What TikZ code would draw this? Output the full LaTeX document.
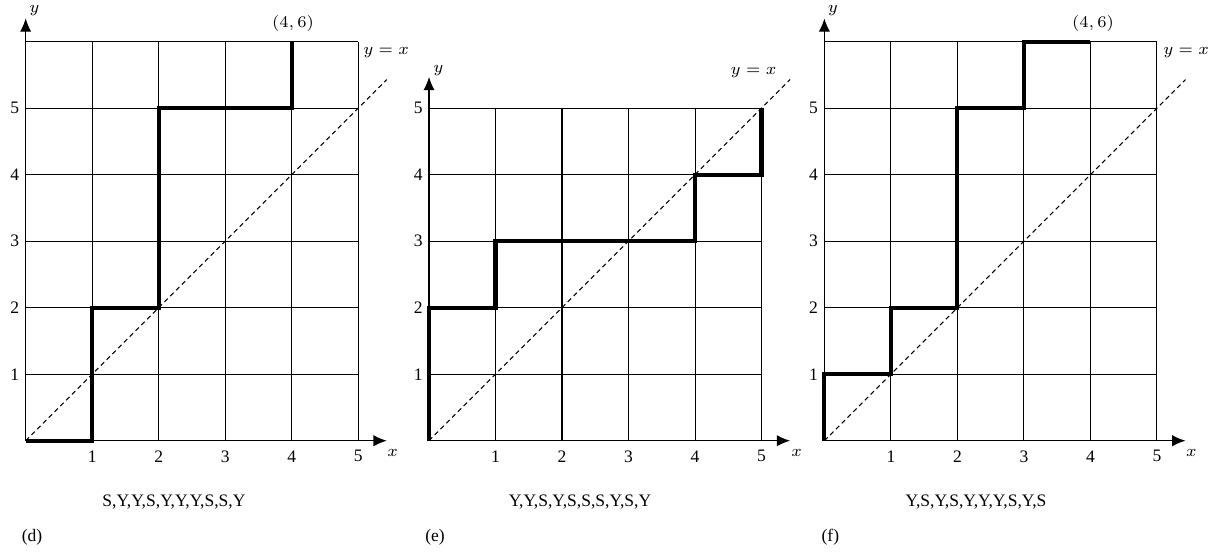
\documentclass[tikz,border=0pt]{standalone}
\usepackage{fontspec}
\setmainfont{Liberation Serif}
\usetikzlibrary{arrows.meta}
\tikzset{
  gridline/.style={line width=0.45pt},
  axisline/.style={line width=0.5pt,-{Latex[length=2mm,width=1.7mm]}},
  pathline/.style={line width=1.8pt,line join=miter},
  diag/.style={line width=0.45pt,dash pattern=on 2pt off 1.5pt},
  lbl/.style={inner sep=0pt},
  xtick/.style={inner sep=0pt,anchor=north},
  ytick/.style={inner sep=0pt,anchor=east}
}
\begin{document}
\begin{tikzpicture}[x=1cm,y=1cm,font=\fontsize{7.5}{9}\selectfont]
\useasboundingbox (-0.386,-1.689) rectangle (17.989,6.627);

% ---------- panel (d) ----------
\begin{scope}
  \draw[gridline] (0,0) grid (5,6);
  \coordinate (dO) at (0,0);
  \coordinate (dX) at (5.43,0);
  \coordinate (dY) at (0,6.35);
  \coordinate (dD) at (5.43,5.43);
  \draw[diag] (dO) -- (dD);
  \draw[pathline] (0,0) -- (1,0) -- (1,2) -- (2,2) -- (2,5) -- (4,5) -- (4,6);
  \draw[axisline] (dO) -- (dX);
  \draw[axisline] (dO) -- (dY);
  \foreach \i in {1,...,5} {
    \node[xtick] (dxt\i) at (\i,-0.14) {\i};
    \node[ytick] (dyt\i) at (-0.09,\i) {\i};
  }
  \node[lbl] (dxl) at (5.52,-0.18) {$x$};
  \node[lbl] (dyl) at (0.13,6.47) {$y$};
  \node[lbl] (dyx) at (5.42,5.84) {$y=x$};
  \node[lbl] (dpt) at (4.02,6.27) {$(4,6)$};
  \node[lbl] (dseq) at (2.23,-0.92) {S,Y,Y,S,Y,Y,Y,S,S,Y};
  \node[lbl] (dtag) at (0.095,-1.45) {(d)};
\end{scope}

% ---------- panel (e) ----------
\begin{scope}[xshift=6.065cm]
  \draw[gridline] (0,0) grid (5,5);
  \coordinate (eO) at (0,0);
  \coordinate (eX) at (5.43,0);
  \coordinate (eY) at (0,5.47);
  \coordinate (eD) at (5.43,5.43);
  \draw[diag] (eO) -- (eD);
  \draw[pathline] (0,0) -- (0,2) -- (1,2) -- (1,3) -- (4,3) -- (4,4) -- (5,4) -- (5,5);
  \draw[axisline] (eO) -- (eX);
  \draw[axisline] (eO) -- (eY);
  \foreach \i in {1,...,5} {
    \node[xtick] (ext\i) at (\i,-0.14) {\i};
    \node[ytick] (eyt\i) at (-0.09,\i) {\i};
  }
  \node[lbl] (exl) at (5.53,-0.18) {$x$};
  \node[lbl] (eyl) at (0.14,5.57) {$y$};
  \node[lbl] (eyx) at (4.88,5.54) {$y=x$};
  \node[lbl] (eseq) at (2.27,-0.92) {Y,Y,S,Y,S,S,S,Y,S,Y};
  \node[lbl] (etag) at (0.09,-1.45) {(e)};
\end{scope}

% ---------- panel (f) ----------
\begin{scope}[xshift=12.01cm]
  \draw[gridline] (0,0) grid (5,6);
  \coordinate (fO) at (0,0);
  \coordinate (fX) at (5.43,0);
  \coordinate (fY) at (0,6.35);
  \coordinate (fD) at (5.43,5.43);
  \draw[diag] (fO) -- (fD);
  \draw[pathline] (0,0) -- (0,1) -- (1,1) -- (1,2) -- (2,2) -- (2,5) -- (3,5) -- (3,6) -- (4,6);
  \draw[axisline] (fO) -- (fX);
  \draw[axisline] (fO) -- (fY);
  \foreach \i in {1,...,5} {
    \node[xtick] (fxt\i) at (\i,-0.14) {\i};
    \node[ytick] (fyt\i) at (-0.09,\i) {\i};
  }
  \node[lbl] (fxl) at (5.52,-0.18) {$x$};
  \node[lbl] (fyl) at (0.13,6.47) {$y$};
  \node[lbl] (fyx) at (5.44,5.84) {$y=x$};
  \node[lbl] (fpt) at (4.04,6.27) {$(4,6)$};
  \node[lbl] (fseq) at (2.28,-0.92) {Y,S,Y,S,Y,Y,Y,S,Y,S};
  \node[lbl] (ftag) at (0.09,-1.45) {(f)};
\end{scope}
\end{tikzpicture}
\end{document}
